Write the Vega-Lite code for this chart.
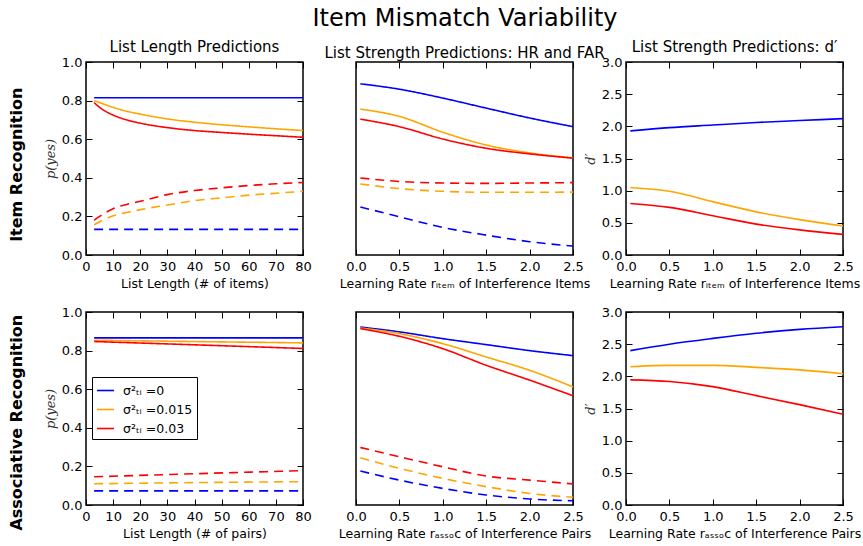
{
  "$schema": "https://vega.github.io/schema/vega-lite/v6.json",
  "background": "white",
  "padding": {"left": 8, "top": 7, "right": 2, "bottom": 5},
  "title": {"text": "Item Mismatch Variability", "fontSize": 24, "font": "DejaVu Sans", "fontWeight": "normal", "anchor": "middle", "offset": 8, "dx": 30, "color": "black"},
  "config": {
    "font": "DejaVu Sans",
    "view": {"stroke": "black", "strokeWidth": 1.5},
    "axis": {"grid": false, "domain": false, "labelFont": "DejaVu Sans", "labelFontSize": 13, "labelColor": "black", "titleFont": "DejaVu Sans", "titleFontSize": 12.5, "titleFontWeight": "normal", "titleColor": "black", "tickColor": "black", "tickSize": -6, "tickWidth": 1, "labelFlush": false, "labelOverlap": false},
    "axisX": {"labelPadding": 11, "titlePadding": 4},
    "axisY": {"labelPadding": 10},
    "title": {"fontSize": 15, "fontWeight": "normal", "font": "DejaVu Sans", "color": "black", "offset": 1},
    "legend": {"labelFont": "DejaVu Sans", "labelFontSize": 13, "labelColor": "black"},
    "line": {"strokeWidth": 1.6, "interpolate": "monotone"}
  },
  "datasets": {
    "p1": [
      {"x": 3, "y": 0.815, "s": "0", "m": "HR"}, {"x": 80, "y": 0.815, "s": "0", "m": "HR"},
      {"x": 3, "y": 0.133, "s": "0", "m": "FAR"}, {"x": 80, "y": 0.133, "s": "0", "m": "FAR"},
      {"x": 3, "y": 0.80, "s": "0.015", "m": "HR"}, {"x": 5, "y": 0.79, "s": "0.015", "m": "HR"}, {"x": 10, "y": 0.765, "s": "0.015", "m": "HR"}, {"x": 15, "y": 0.745, "s": "0.015", "m": "HR"}, {"x": 20, "y": 0.73, "s": "0.015", "m": "HR"}, {"x": 30, "y": 0.705, "s": "0.015", "m": "HR"}, {"x": 40, "y": 0.688, "s": "0.015", "m": "HR"}, {"x": 50, "y": 0.675, "s": "0.015", "m": "HR"}, {"x": 60, "y": 0.664, "s": "0.015", "m": "HR"}, {"x": 70, "y": 0.654, "s": "0.015", "m": "HR"}, {"x": 80, "y": 0.645, "s": "0.015", "m": "HR"},
      {"x": 3, "y": 0.79, "s": "0.03", "m": "HR"}, {"x": 5, "y": 0.765, "s": "0.03", "m": "HR"}, {"x": 10, "y": 0.725, "s": "0.03", "m": "HR"}, {"x": 15, "y": 0.70, "s": "0.03", "m": "HR"}, {"x": 20, "y": 0.683, "s": "0.03", "m": "HR"}, {"x": 30, "y": 0.66, "s": "0.03", "m": "HR"}, {"x": 40, "y": 0.645, "s": "0.03", "m": "HR"}, {"x": 50, "y": 0.635, "s": "0.03", "m": "HR"}, {"x": 60, "y": 0.626, "s": "0.03", "m": "HR"}, {"x": 70, "y": 0.618, "s": "0.03", "m": "HR"}, {"x": 80, "y": 0.61, "s": "0.03", "m": "HR"},
      {"x": 3, "y": 0.18, "s": "0.03", "m": "FAR"}, {"x": 5, "y": 0.20, "s": "0.03", "m": "FAR"}, {"x": 10, "y": 0.24, "s": "0.03", "m": "FAR"}, {"x": 15, "y": 0.262, "s": "0.03", "m": "FAR"}, {"x": 20, "y": 0.278, "s": "0.03", "m": "FAR"}, {"x": 30, "y": 0.313, "s": "0.03", "m": "FAR"}, {"x": 40, "y": 0.334, "s": "0.03", "m": "FAR"}, {"x": 50, "y": 0.348, "s": "0.03", "m": "FAR"}, {"x": 60, "y": 0.36, "s": "0.03", "m": "FAR"}, {"x": 70, "y": 0.369, "s": "0.03", "m": "FAR"}, {"x": 80, "y": 0.376, "s": "0.03", "m": "FAR"},
      {"x": 3, "y": 0.157, "s": "0.015", "m": "FAR"}, {"x": 5, "y": 0.172, "s": "0.015", "m": "FAR"}, {"x": 10, "y": 0.203, "s": "0.015", "m": "FAR"}, {"x": 15, "y": 0.22, "s": "0.015", "m": "FAR"}, {"x": 20, "y": 0.235, "s": "0.015", "m": "FAR"}, {"x": 30, "y": 0.259, "s": "0.015", "m": "FAR"}, {"x": 40, "y": 0.282, "s": "0.015", "m": "FAR"}, {"x": 50, "y": 0.296, "s": "0.015", "m": "FAR"}, {"x": 60, "y": 0.31, "s": "0.015", "m": "FAR"}, {"x": 70, "y": 0.32, "s": "0.015", "m": "FAR"}, {"x": 80, "y": 0.33, "s": "0.015", "m": "FAR"}
    ],
    "p2": [
      {"x": 0.05, "y": 0.887, "s": "0", "m": "HR"}, {"x": 0.5, "y": 0.859, "s": "0", "m": "HR"}, {"x": 1.0, "y": 0.813, "s": "0", "m": "HR"}, {"x": 1.5, "y": 0.761, "s": "0", "m": "HR"}, {"x": 2.0, "y": 0.71, "s": "0", "m": "HR"}, {"x": 2.5, "y": 0.665, "s": "0", "m": "HR"},
      {"x": 0.05, "y": 0.756, "s": "0.015", "m": "HR"}, {"x": 0.5, "y": 0.718, "s": "0.015", "m": "HR"}, {"x": 1.0, "y": 0.636, "s": "0.015", "m": "HR"}, {"x": 1.5, "y": 0.57, "s": "0.015", "m": "HR"}, {"x": 2.0, "y": 0.529, "s": "0.015", "m": "HR"}, {"x": 2.5, "y": 0.503, "s": "0.015", "m": "HR"},
      {"x": 0.05, "y": 0.704, "s": "0.03", "m": "HR"}, {"x": 0.5, "y": 0.665, "s": "0.03", "m": "HR"}, {"x": 1.0, "y": 0.601, "s": "0.03", "m": "HR"}, {"x": 1.5, "y": 0.553, "s": "0.03", "m": "HR"}, {"x": 2.0, "y": 0.524, "s": "0.03", "m": "HR"}, {"x": 2.5, "y": 0.502, "s": "0.03", "m": "HR"},
      {"x": 0.05, "y": 0.399, "s": "0.03", "m": "FAR"}, {"x": 0.5, "y": 0.381, "s": "0.03", "m": "FAR"}, {"x": 1.0, "y": 0.373, "s": "0.03", "m": "FAR"}, {"x": 1.5, "y": 0.371, "s": "0.03", "m": "FAR"}, {"x": 2.0, "y": 0.373, "s": "0.03", "m": "FAR"}, {"x": 2.5, "y": 0.375, "s": "0.03", "m": "FAR"},
      {"x": 0.05, "y": 0.368, "s": "0.015", "m": "FAR"}, {"x": 0.5, "y": 0.344, "s": "0.015", "m": "FAR"}, {"x": 1.0, "y": 0.33, "s": "0.015", "m": "FAR"}, {"x": 1.5, "y": 0.325, "s": "0.015", "m": "FAR"}, {"x": 2.0, "y": 0.325, "s": "0.015", "m": "FAR"}, {"x": 2.5, "y": 0.326, "s": "0.015", "m": "FAR"},
      {"x": 0.05, "y": 0.249, "s": "0", "m": "FAR"}, {"x": 0.5, "y": 0.198, "s": "0", "m": "FAR"}, {"x": 1.0, "y": 0.143, "s": "0", "m": "FAR"}, {"x": 1.5, "y": 0.103, "s": "0", "m": "FAR"}, {"x": 2.0, "y": 0.069, "s": "0", "m": "FAR"}, {"x": 2.5, "y": 0.046, "s": "0", "m": "FAR"}
    ],
    "p3": [
      {"x": 0.05, "y": 1.93, "s": "0"}, {"x": 0.5, "y": 1.98, "s": "0"}, {"x": 1.0, "y": 2.02, "s": "0"}, {"x": 1.5, "y": 2.06, "s": "0"}, {"x": 2.0, "y": 2.09, "s": "0"}, {"x": 2.5, "y": 2.12, "s": "0"},
      {"x": 0.05, "y": 1.05, "s": "0.015"}, {"x": 0.5, "y": 0.99, "s": "0.015"}, {"x": 1.0, "y": 0.83, "s": "0.015"}, {"x": 1.5, "y": 0.67, "s": "0.015"}, {"x": 2.0, "y": 0.55, "s": "0.015"}, {"x": 2.5, "y": 0.45, "s": "0.015"},
      {"x": 0.05, "y": 0.80, "s": "0.03"}, {"x": 0.5, "y": 0.74, "s": "0.03"}, {"x": 1.0, "y": 0.61, "s": "0.03"}, {"x": 1.5, "y": 0.48, "s": "0.03"}, {"x": 2.0, "y": 0.39, "s": "0.03"}, {"x": 2.5, "y": 0.32, "s": "0.03"}
    ],
    "p4": [
      {"x": 3, "y": 0.866, "s": "0", "m": "HR"}, {"x": 80, "y": 0.866, "s": "0", "m": "HR"},
      {"x": 3, "y": 0.854, "s": "0.015", "m": "HR"}, {"x": 40, "y": 0.847, "s": "0.015", "m": "HR"}, {"x": 80, "y": 0.84, "s": "0.015", "m": "HR"},
      {"x": 3, "y": 0.847, "s": "0.03", "m": "HR"}, {"x": 40, "y": 0.83, "s": "0.03", "m": "HR"}, {"x": 80, "y": 0.811, "s": "0.03", "m": "HR"},
      {"x": 3, "y": 0.146, "s": "0.03", "m": "FAR"}, {"x": 40, "y": 0.162, "s": "0.03", "m": "FAR"}, {"x": 80, "y": 0.178, "s": "0.03", "m": "FAR"},
      {"x": 3, "y": 0.11, "s": "0.015", "m": "FAR"}, {"x": 40, "y": 0.116, "s": "0.015", "m": "FAR"}, {"x": 80, "y": 0.121, "s": "0.015", "m": "FAR"},
      {"x": 3, "y": 0.073, "s": "0", "m": "FAR"}, {"x": 80, "y": 0.073, "s": "0", "m": "FAR"}
    ],
    "p5": [
      {"x": 0.05, "y": 0.922, "s": "0", "m": "HR"}, {"x": 0.5, "y": 0.897, "s": "0", "m": "HR"}, {"x": 1.0, "y": 0.862, "s": "0", "m": "HR"}, {"x": 1.5, "y": 0.831, "s": "0", "m": "HR"}, {"x": 2.0, "y": 0.80, "s": "0", "m": "HR"}, {"x": 2.5, "y": 0.774, "s": "0", "m": "HR"},
      {"x": 0.05, "y": 0.917, "s": "0.015", "m": "HR"}, {"x": 0.5, "y": 0.888, "s": "0.015", "m": "HR"}, {"x": 1.0, "y": 0.836, "s": "0.015", "m": "HR"}, {"x": 1.5, "y": 0.767, "s": "0.015", "m": "HR"}, {"x": 2.0, "y": 0.698, "s": "0.015", "m": "HR"}, {"x": 2.5, "y": 0.612, "s": "0.015", "m": "HR"},
      {"x": 0.05, "y": 0.914, "s": "0.03", "m": "HR"}, {"x": 0.5, "y": 0.874, "s": "0.03", "m": "HR"}, {"x": 1.0, "y": 0.81, "s": "0.03", "m": "HR"}, {"x": 1.5, "y": 0.724, "s": "0.03", "m": "HR"}, {"x": 2.0, "y": 0.647, "s": "0.03", "m": "HR"}, {"x": 2.5, "y": 0.566, "s": "0.03", "m": "HR"},
      {"x": 0.05, "y": 0.298, "s": "0.03", "m": "FAR"}, {"x": 0.5, "y": 0.25, "s": "0.03", "m": "FAR"}, {"x": 1.0, "y": 0.198, "s": "0.03", "m": "FAR"}, {"x": 1.5, "y": 0.15, "s": "0.03", "m": "FAR"}, {"x": 2.0, "y": 0.129, "s": "0.03", "m": "FAR"}, {"x": 2.5, "y": 0.109, "s": "0.03", "m": "FAR"},
      {"x": 0.05, "y": 0.245, "s": "0.015", "m": "FAR"}, {"x": 0.5, "y": 0.19, "s": "0.015", "m": "FAR"}, {"x": 1.0, "y": 0.138, "s": "0.015", "m": "FAR"}, {"x": 1.5, "y": 0.095, "s": "0.015", "m": "FAR"}, {"x": 2.0, "y": 0.06, "s": "0.015", "m": "FAR"}, {"x": 2.5, "y": 0.04, "s": "0.015", "m": "FAR"},
      {"x": 0.05, "y": 0.176, "s": "0", "m": "FAR"}, {"x": 0.5, "y": 0.129, "s": "0", "m": "FAR"}, {"x": 1.0, "y": 0.086, "s": "0", "m": "FAR"}, {"x": 1.5, "y": 0.052, "s": "0", "m": "FAR"}, {"x": 2.0, "y": 0.031, "s": "0", "m": "FAR"}, {"x": 2.5, "y": 0.022, "s": "0", "m": "FAR"}
    ],
    "p6": [
      {"x": 0.05, "y": 2.40, "s": "0"}, {"x": 0.5, "y": 2.50, "s": "0"}, {"x": 1.0, "y": 2.59, "s": "0"}, {"x": 1.5, "y": 2.67, "s": "0"}, {"x": 2.0, "y": 2.73, "s": "0"}, {"x": 2.5, "y": 2.77, "s": "0"},
      {"x": 0.05, "y": 2.15, "s": "0.015"}, {"x": 0.5, "y": 2.17, "s": "0.015"}, {"x": 1.0, "y": 2.17, "s": "0.015"}, {"x": 1.5, "y": 2.14, "s": "0.015"}, {"x": 2.0, "y": 2.10, "s": "0.015"}, {"x": 2.5, "y": 2.04, "s": "0.015"},
      {"x": 0.05, "y": 1.945, "s": "0.03"}, {"x": 0.5, "y": 1.92, "s": "0.03"}, {"x": 1.0, "y": 1.84, "s": "0.03"}, {"x": 1.5, "y": 1.70, "s": "0.03"}, {"x": 2.0, "y": 1.56, "s": "0.03"}, {"x": 2.5, "y": 1.41, "s": "0.03"}
    ]
  },
  "vconcat": [
    {
      "title": {"text": "Item Recognition", "orient": "left", "anchor": "middle", "fontSize": 16, "fontWeight": "bold", "offset": 19},
      "bounds": "flush",
      "spacing": 53,
      "resolve": {"scale": {"color": "independent"}, "legend": {"color": "independent"}},
      "hconcat": [
        {
          "title": "List Length Predictions",
          "width": 217, "height": 193,
          "data": {"name": "p1"},
          "layer": [
            {"mark": "line", "encoding": {
              "x": {"field": "x", "type": "quantitative", "scale": {"domain": [0, 80], "nice": false}, "axis": {"values": [0, 10, 20, 30, 40, 50, 60, 70, 80], "title": "List Length (# of items)"}},
              "y": {"field": "y", "type": "quantitative", "scale": {"domain": [0, 1], "nice": false}, "axis": {"values": [0, 0.2, 0.4, 0.6, 0.8, 1.0], "format": ".1f", "title": "p(yes)", "titleFont": "DejaVu Serif", "titleFontStyle": "italic", "titleFontSize": 13, "titleColor": "#333", "titlePadding": 4}},
              "color": {"field": "s", "type": "nominal", "scale": {"domain": ["0", "0.015", "0.03"], "range": ["#0000ff", "#ffa500", "#ff0000"]}, "legend": null},
              "strokeDash": {"field": "m", "type": "nominal", "scale": {"domain": ["HR", "FAR"], "range": [[1, 0], [9, 6]]}, "legend": null}
            }},
            {"mark": {"type": "line", "opacity": 0}, "encoding": {
              "x": {"field": "x", "type": "quantitative", "scale": {"domain": [0, 80], "nice": false}, "axis": {"orient": "top", "values": [0, 10, 20, 30, 40, 50, 60, 70, 80], "labels": false, "title": null}},
              "y": {"field": "y", "type": "quantitative", "scale": {"domain": [0, 1], "nice": false}, "axis": {"orient": "right", "values": [0, 0.2, 0.4, 0.6, 0.8, 1.0], "labels": false, "title": null}}
            }}
          ],
          "resolve": {"axis": {"x": "independent", "y": "independent"}}
        },
        {
          "title": "List Strength Predictions: HR and FAR",
          "width": 217, "height": 193,
          "data": {"name": "p2"},
          "layer": [
            {"mark": "line", "encoding": {
              "x": {"field": "x", "type": "quantitative", "scale": {"domain": [0, 2.5], "nice": false}, "axis": {"values": [0, 0.5, 1, 1.5, 2, 2.5], "format": ".1f", "title": "Learning Rate rᵢₜₑₘ of Interference Items"}},
              "y": {"field": "y", "type": "quantitative", "scale": {"domain": [0, 1], "nice": false}, "axis": {"labels": false, "ticks": false, "title": null}},
              "color": {"field": "s", "type": "nominal", "scale": {"domain": ["0", "0.015", "0.03"], "range": ["#0000ff", "#ffa500", "#ff0000"]}, "legend": null},
              "strokeDash": {"field": "m", "type": "nominal", "scale": {"domain": ["HR", "FAR"], "range": [[1, 0], [9, 6]]}, "legend": null}
            }},
            {"mark": {"type": "line", "opacity": 0}, "encoding": {
              "x": {"field": "x", "type": "quantitative", "scale": {"domain": [0, 2.5], "nice": false}, "axis": {"orient": "top", "values": [0, 0.5, 1, 1.5, 2, 2.5], "labels": false, "title": null}}
            }}
          ],
          "resolve": {"axis": {"x": "independent"}}
        },
        {
          "title": "List Strength Predictions: d′",
          "width": 217, "height": 193,
          "data": {"name": "p3"},
          "layer": [
            {"mark": "line", "encoding": {
              "x": {"field": "x", "type": "quantitative", "scale": {"domain": [0, 2.5], "nice": false}, "axis": {"values": [0, 0.5, 1, 1.5, 2, 2.5], "format": ".1f", "title": "Learning Rate rᵢₜₑₘ of Interference Items"}},
              "y": {"field": "y", "type": "quantitative", "scale": {"domain": [0, 3], "nice": false}, "axis": {"values": [0, 0.5, 1, 1.5, 2, 2.5, 3], "format": ".1f", "title": "d′", "titleFont": "DejaVu Serif", "titleFontStyle": "italic", "titleFontSize": 13, "titleColor": "#333", "titlePadding": 4}},
              "color": {"field": "s", "type": "nominal", "scale": {"domain": ["0", "0.015", "0.03"], "range": ["#0000ff", "#ffa500", "#ff0000"]}, "legend": null}
            }},
            {"mark": {"type": "line", "opacity": 0}, "encoding": {
              "x": {"field": "x", "type": "quantitative", "scale": {"domain": [0, 2.5], "nice": false}, "axis": {"orient": "top", "values": [0, 0.5, 1, 1.5, 2, 2.5], "labels": false, "title": null}},
              "y": {"field": "y", "type": "quantitative", "scale": {"domain": [0, 3], "nice": false}, "axis": {"orient": "right", "values": [0, 0.5, 1, 1.5, 2, 2.5, 3], "labels": false, "title": null}}
            }}
          ],
          "resolve": {"axis": {"x": "independent", "y": "independent"}}
        }
      ]
    },
    {
      "title": {"text": "Associative Recognition", "orient": "left", "anchor": "middle", "fontSize": 16, "fontWeight": "bold", "offset": 19},
      "bounds": "flush",
      "spacing": 53,
      "resolve": {"scale": {"color": "independent"}, "legend": {"color": "independent"}},
      "hconcat": [
        {
          "width": 217, "height": 193,
          "data": {"name": "p4"},
          "layer": [
            {"mark": "line", "encoding": {
              "x": {"field": "x", "type": "quantitative", "scale": {"domain": [0, 80], "nice": false}, "axis": {"values": [0, 10, 20, 30, 40, 50, 60, 70, 80], "title": "List Length (# of pairs)"}},
              "y": {"field": "y", "type": "quantitative", "scale": {"domain": [0, 1], "nice": false}, "axis": {"values": [0, 0.2, 0.4, 0.6, 0.8, 1.0], "format": ".1f", "title": "p(yes)", "titleFont": "DejaVu Serif", "titleFontStyle": "italic", "titleFontSize": 13, "titleColor": "#333", "titlePadding": 4}},
              "color": {"field": "s", "type": "nominal", "scale": {"domain": ["0", "0.015", "0.03"], "range": ["#0000ff", "#ffa500", "#ff0000"]}, "legend": {"orient": "none", "legendX": 6, "legendY": 65, "title": null, "labelExpr": "'σ²ₜᵢ =' + datum.label", "symbolType": "stroke", "symbolStrokeWidth": 2, "symbolSize": 289, "fillColor": "white", "strokeColor": "black", "padding": 4, "rowPadding": 3, "labelOffset": 8, "labelFontSize": 12.5}},
              "strokeDash": {"field": "m", "type": "nominal", "scale": {"domain": ["HR", "FAR"], "range": [[1, 0], [9, 6]]}, "legend": null}
            }},
            {"mark": {"type": "line", "opacity": 0}, "encoding": {
              "x": {"field": "x", "type": "quantitative", "scale": {"domain": [0, 80], "nice": false}, "axis": {"orient": "top", "values": [0, 10, 20, 30, 40, 50, 60, 70, 80], "labels": false, "title": null}},
              "y": {"field": "y", "type": "quantitative", "scale": {"domain": [0, 1], "nice": false}, "axis": {"orient": "right", "values": [0, 0.2, 0.4, 0.6, 0.8, 1.0], "labels": false, "title": null}}
            }}
          ],
          "resolve": {"axis": {"x": "independent", "y": "independent"}}
        },
        {
          "width": 217, "height": 193,
          "data": {"name": "p5"},
          "layer": [
            {"mark": "line", "encoding": {
              "x": {"field": "x", "type": "quantitative", "scale": {"domain": [0, 2.5], "nice": false}, "axis": {"values": [0, 0.5, 1, 1.5, 2, 2.5], "format": ".1f", "title": "Learning Rate rₐₛₛₒc of Interference Pairs"}},
              "y": {"field": "y", "type": "quantitative", "scale": {"domain": [0, 1], "nice": false}, "axis": {"labels": false, "ticks": false, "title": null}},
              "color": {"field": "s", "type": "nominal", "scale": {"domain": ["0", "0.015", "0.03"], "range": ["#0000ff", "#ffa500", "#ff0000"]}, "legend": null},
              "strokeDash": {"field": "m", "type": "nominal", "scale": {"domain": ["HR", "FAR"], "range": [[1, 0], [9, 6]]}, "legend": null}
            }},
            {"mark": {"type": "line", "opacity": 0}, "encoding": {
              "x": {"field": "x", "type": "quantitative", "scale": {"domain": [0, 2.5], "nice": false}, "axis": {"orient": "top", "values": [0, 0.5, 1, 1.5, 2, 2.5], "labels": false, "title": null}}
            }}
          ],
          "resolve": {"axis": {"x": "independent"}}
        },
        {
          "width": 217, "height": 193,
          "data": {"name": "p6"},
          "layer": [
            {"mark": "line", "encoding": {
              "x": {"field": "x", "type": "quantitative", "scale": {"domain": [0, 2.5], "nice": false}, "axis": {"values": [0, 0.5, 1, 1.5, 2, 2.5], "format": ".1f", "title": "Learning Rate rₐₛₛₒc of Interference Pairs"}},
              "y": {"field": "y", "type": "quantitative", "scale": {"domain": [0, 3], "nice": false}, "axis": {"values": [0, 0.5, 1, 1.5, 2, 2.5, 3], "format": ".1f", "title": "d′", "titleFont": "DejaVu Serif", "titleFontStyle": "italic", "titleFontSize": 13, "titleColor": "#333", "titlePadding": 4}},
              "color": {"field": "s", "type": "nominal", "scale": {"domain": ["0", "0.015", "0.03"], "range": ["#0000ff", "#ffa500", "#ff0000"]}, "legend": null}
            }},
            {"mark": {"type": "line", "opacity": 0}, "encoding": {
              "x": {"field": "x", "type": "quantitative", "scale": {"domain": [0, 2.5], "nice": false}, "axis": {"orient": "top", "values": [0, 0.5, 1, 1.5, 2, 2.5], "labels": false, "title": null}},
              "y": {"field": "y", "type": "quantitative", "scale": {"domain": [0, 3], "nice": false}, "axis": {"orient": "right", "values": [0, 0.5, 1, 1.5, 2, 2.5, 3], "labels": false, "title": null}}
            }}
          ],
          "resolve": {"axis": {"x": "independent", "y": "independent"}}
        }
      ]
    }
  ],
  "spacing": 14,
  "resolve": {"scale": {"color": "independent"}, "legend": {"color": "independent"}}
}
